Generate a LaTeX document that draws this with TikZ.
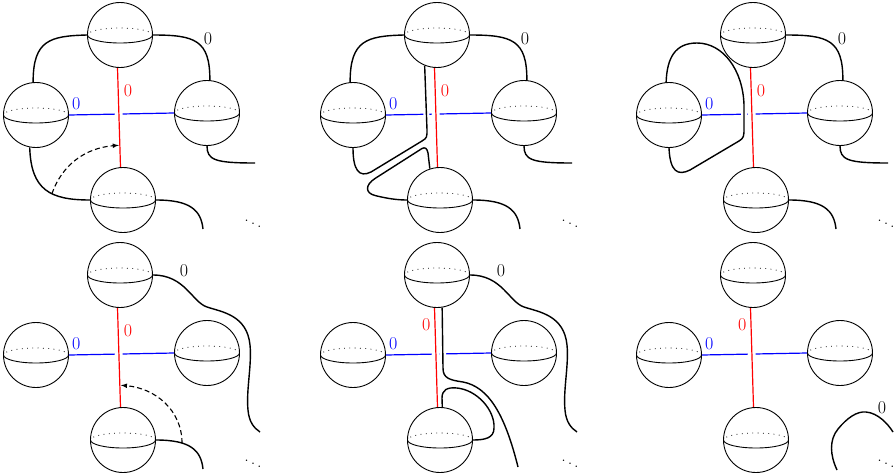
\documentclass[tikz,border=0pt]{standalone}
\usepackage{amsmath}
\usepackage{fontspec}
\usepackage{tikz}
\usetikzlibrary{positioning}
\usetikzlibrary{backgrounds}
\usetikzlibrary{arrows}

\tikzset{
  ball/.style={circle, draw, line width=0.9pt, fill=white, minimum size=65pt, inner sep=0pt,
    path picture={
      \draw[line width=0.9pt] (path picture bounding box.west) arc (180:360:32.5pt and 8pt);
      \draw[line width=0.8pt, dash pattern=on 0.8pt off 4.5pt] (path picture bounding box.east) arc (0:180:32.5pt and 7pt);
    }},
  strand/.style={line width=1.4pt},
  overpass/.style={preaction={draw, white, line width=6pt}},
  redline/.style={red, line width=1.2pt, preaction={draw, white, line width=7.5pt}},
  blueline/.style={blue, line width=1.2pt},
  lab/.style={font=\fontsize{18}{21}\selectfont, inner sep=1pt},
  slide/.style={->, >=latex, line width=1.1pt, dash pattern=on 5pt off 3pt},
}

\begin{document}
\begin{tikzpicture}[x=1pt, y=-1pt]
\useasboundingbox (0,0) rectangle (896,474);
% spheres with the red and blue arcs
\foreach \p/\dx/\dy/\rp/\anc/\sh in {1/0/0/0.23/west/4pt, 2/317/0/0.23/west/4pt, 3/633/0/0.23/west/4pt,
    4/0/240/0.23/west/4pt, 5/317/240/0.17/east/-3pt, 6/633/240/0.17/east/-3pt} {
  \begin{scope}[shift={(\dx,\dy)}]
    \node[ball] (t\p) at (120,35) {};
    \node[ball] (l\p) at (36,115) {};
    \node[ball] (r\p) at (207,113) {};
    \node[ball] (b\p) at (123,200) {};
    \node (d\p) [lab] at (253,221) {$\ddots$};
    \begin{scope}[on background layer]
      \draw[blueline] (l\p.east) -- (r\p.west)
        node (bl\p) [lab, blue, pos=0.07, anchor=south, yshift=3pt] {0};
      \draw[redline] ([xshift=-2.5pt]t\p.south) -- ([xshift=-2.5pt]b\p.north)
        coordinate[pos=0.78] (a\p) node (rl\p) [lab, red, pos=\rp, anchor=\anc, xshift=\sh] {0};
    \end{scope}
  \end{scope}
}

\begin{scope}[on background layer]
% first row
\begin{scope}
  \coordinate (e1) at (255,163);
  \coordinate (f1) at (203,229);
  \draw[strand] (t1.west) .. controls (50,36) and (33,40) .. (l1.95);
  \draw[strand] (t1.east) .. controls (195,35) and (210,40) .. (r1.85);
  \draw[strand] (l1.259) .. controls (31,190) and (50,200) .. (b1.west) coordinate[pos=0.6] (s1);
  \draw[strand] (r1.south) .. controls (207,160) and (215,163) .. (e1);
  \draw[strand] (b1.east) .. controls (190,200) and (201,210) .. (f1);
  \draw[slide] (s1) .. controls (62,165) and (85,148) .. ([xshift=-1pt]a1);
  \node (k1) [lab] at (208,39) {0};
\end{scope}
\begin{scope}[shift={(317,0)}]
  \coordinate (e2) at (255,163);
  \coordinate (f2) at (203,229);
  \draw[strand] (t2.west) .. controls (50,36) and (33,40) .. (l2.95);
  \draw[strand] (t2.east) .. controls (195,35) and (210,40) .. (r2.85);
  \draw[strand] (r2.south) .. controls (207,160) and (215,163) .. (e2);
  \draw[strand] (b2.east) .. controls (190,200) and (201,210) .. (f2);
  \draw[strand, overpass] (l2.south) .. controls (36,170) and (42,178) .. (54,172) -- (105,141)
    .. controls (110,138) and (110,137) .. (110,130) -- (t2.248);
  \draw[strand] (b2.108) -- (111,153) .. controls (110,148) and (108,147) .. (105,148.5) -- (58,178.5)
    .. controls (48,185) and (48,193) .. (58,195.5) .. controls (70,198.5) and (80,200) .. (b2.west);
  \node (k2) [lab] at (208,39) {0};
\end{scope}
\begin{scope}[shift={(633,0)}]
  \coordinate (e3) at (255,163);
  \coordinate (f3) at (203,229);
  \draw[strand] (t3.east) .. controls (195,35) and (210,40) .. (r3.85);
  \draw[strand] (r3.south) .. controls (207,160) and (215,163) .. (e3);
  \draw[strand] (b3.east) .. controls (190,200) and (201,210) .. (f3);
  \draw[strand, overpass] (l3.south) .. controls (37,172) and (45,176) .. (57,170) -- (106,141)
    .. controls (111,138) and (111,136) .. (111,128) -- (111,105) .. controls (110,70) and (90,43) .. (64,43)
    .. controls (42,43) and (34,58) .. (l3.95);
  \node (k3) [lab] at (209,39) {0};
\end{scope}
% second row
\begin{scope}[shift={(0,240)}]
  \coordinate (e4) at (260,192);
  \coordinate (f4) at (203,229);
  \draw[strand] (t4.east) .. controls (185,35) and (192,62) .. (207,67) .. controls (222,72) and (247,75) .. (250,105)
    .. controls (252,125) and (246,150) .. (248,170) .. controls (249,182) and (254,188) .. (e4);
  \draw[strand] (b4.east) .. controls (190,200) and (201,210) .. (f4) coordinate[pos=0.32] (s4);
  \draw[slide] (s4) .. controls (182,170) and (155,148) .. ([xshift=1pt]a4);
  \node (k4) [lab] at (184,31) {0};
\end{scope}
\begin{scope}[shift={(317,240)}]
  \coordinate (e5) at (260,192);
  \coordinate (g5) at (201,227);
  \draw[strand] (t5.east) .. controls (185,35) and (192,62) .. (207,67) .. controls (222,72) and (247,75) .. (250,105)
    .. controls (252,125) and (246,150) .. (248,170) .. controls (249,182) and (254,188) .. (e5);
  \draw[strand, overpass] (t5.279) -- (126,128) .. controls (126,138) and (132,140) .. (146,142)
    .. controls (172,147) and (188,175) .. (g5);
  \draw[strand] (b5.86) -- (125,158) .. controls (125,150) and (130,147) .. (140,148)
    .. controls (160,150) and (178,170) .. (177,188) .. controls (177,198) and (168,200) .. (b5.east);
  \node (k5) [lab] at (184,31) {0};
\end{scope}
\begin{scope}[shift={(633,240)}]
  \coordinate (e6) at (260,192);
  \coordinate (f6) at (204,230);
  \draw[strand] (f6) .. controls (197,215) and (196,200) .. (205,189) .. controls (214,178) and (224,171) .. (233,172)
    .. controls (245,173) and (255,184) .. (e6);
  \node (k6) [lab] at (249,168) {0};
\end{scope}
\end{scope}
\end{tikzpicture}
\end{document}
